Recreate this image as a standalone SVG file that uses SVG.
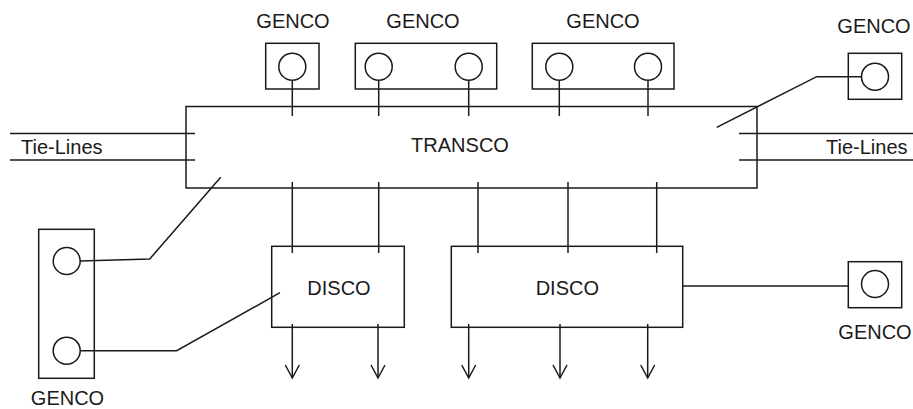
<svg xmlns="http://www.w3.org/2000/svg" width="913" height="409" viewBox="0 0 913 409">
<defs>
<style>
.b{fill:none;stroke:#1a1a1a;stroke-width:1.5}
.c{fill:#fff;stroke:#1a1a1a;stroke-width:1.5}
.l{fill:none;stroke:#1a1a1a;stroke-width:1.5}
.t{font-family:"Liberation Sans",Arial,sans-serif;font-size:20px;fill:#1a1a1a}
.m{text-anchor:middle}
</style>
<marker id="ar" viewBox="0 0 16 16" refX="14" refY="8" markerWidth="16" markerHeight="16" markerUnits="userSpaceOnUse" orient="auto">
<path d="M1,1 L14,8 L1,15" fill="none" stroke="#1a1a1a" stroke-width="1.5"/>
</marker>
</defs>
<rect width="913" height="409" fill="#fff"/>
<g id="connectors">
<line class="l" x1="10" y1="133.5" x2="195" y2="133.5"/>
<line class="l" x1="10" y1="160" x2="195" y2="160"/>
<line class="l" x1="739" y1="133.5" x2="913" y2="133.5"/>
<line class="l" x1="739" y1="160" x2="913" y2="160"/>
<line class="l" x1="292.3" y1="80" x2="292.3" y2="116"/>
<line class="l" x1="378.7" y1="80" x2="378.7" y2="116"/>
<line class="l" x1="468.7" y1="80" x2="468.7" y2="116"/>
<line class="l" x1="559.3" y1="80" x2="559.3" y2="116"/>
<line class="l" x1="648" y1="80" x2="648" y2="116"/>
<polyline class="l" points="861.5,76.7 816.7,76.7 716.7,127.3"/>
<polyline class="l" points="80,261 149.7,259 220.7,177.3"/>
<polyline class="l" points="80,350.7 176.7,350.7 280,292.7"/>
<line class="l" x1="292.3" y1="182" x2="292.3" y2="253"/>
<line class="l" x1="378.7" y1="182" x2="378.7" y2="253"/>
<line class="l" x1="478" y1="182" x2="478" y2="253"/>
<line class="l" x1="568" y1="182" x2="568" y2="253"/>
<line class="l" x1="656.7" y1="182" x2="656.7" y2="253"/>
<line class="l" x1="682.7" y1="286" x2="848.3" y2="286"/>
<line class="l" x1="292.3" y1="324" x2="292.3" y2="378" marker-end="url(#ar)"/>
<line class="l" x1="378" y1="324" x2="378" y2="378" marker-end="url(#ar)"/>
<line class="l" x1="468.7" y1="324" x2="468.7" y2="378" marker-end="url(#ar)"/>
<line class="l" x1="560" y1="324" x2="560" y2="378" marker-end="url(#ar)"/>
<line class="l" x1="647.7" y1="324" x2="647.7" y2="378" marker-end="url(#ar)"/>
</g>
<g id="transco">
<rect class="b" x="186" y="106.5" width="571" height="81.5"/>
<text class="t m" x="460" y="152.3">TRANSCO</text>
</g>
<g id="tielines-left"><text class="t" x="21" y="154">Tie-Lines</text></g>
<g id="tielines-right"><text class="t" x="826" y="154">Tie-Lines</text></g>
<g id="genco1">
<rect class="b" x="265.7" y="43.3" width="53.3" height="45.7"/>
<circle class="c" cx="292.3" cy="66.7" r="13.5"/>
<text class="t m" x="293" y="28">GENCO</text>
</g>
<g id="genco2">
<rect class="b" x="355.3" y="43.3" width="141.4" height="45.7"/>
<circle class="c" cx="378.7" cy="66.7" r="13.5"/>
<circle class="c" cx="468.7" cy="66.7" r="13.5"/>
<text class="t m" x="423" y="28">GENCO</text>
</g>
<g id="genco3">
<rect class="b" x="532.3" y="43.3" width="141.7" height="45.7"/>
<circle class="c" cx="559.3" cy="66.7" r="13.5"/>
<circle class="c" cx="648" cy="66.7" r="13.5"/>
<text class="t m" x="603" y="28">GENCO</text>
</g>
<g id="genco4">
<rect class="b" x="848.3" y="53.3" width="53.4" height="46"/>
<circle class="c" cx="875" cy="76.7" r="13.5"/>
<text class="t m" x="874" y="33.3">GENCO</text>
</g>
<g id="genco5">
<rect class="b" x="38.7" y="229.3" width="55.6" height="149"/>
<circle class="c" cx="66.7" cy="261" r="13.5"/>
<circle class="c" cx="66.7" cy="350.7" r="13.5"/>
<text class="t m" x="67.5" y="405">GENCO</text>
</g>
<g id="genco6">
<rect class="b" x="848.3" y="261.7" width="53.4" height="46"/>
<circle class="c" cx="875" cy="284" r="13.5"/>
<text class="t m" x="875" y="339.3">GENCO</text>
</g>
<g id="disco1">
<rect class="b" x="271.7" y="246.3" width="132.6" height="81"/>
<text class="t m" x="339" y="295">DISCO</text>
</g>
<g id="disco2">
<rect class="b" x="451.3" y="246.3" width="231.4" height="81"/>
<text class="t m" x="567.3" y="295">DISCO</text>
</g>
</svg>
